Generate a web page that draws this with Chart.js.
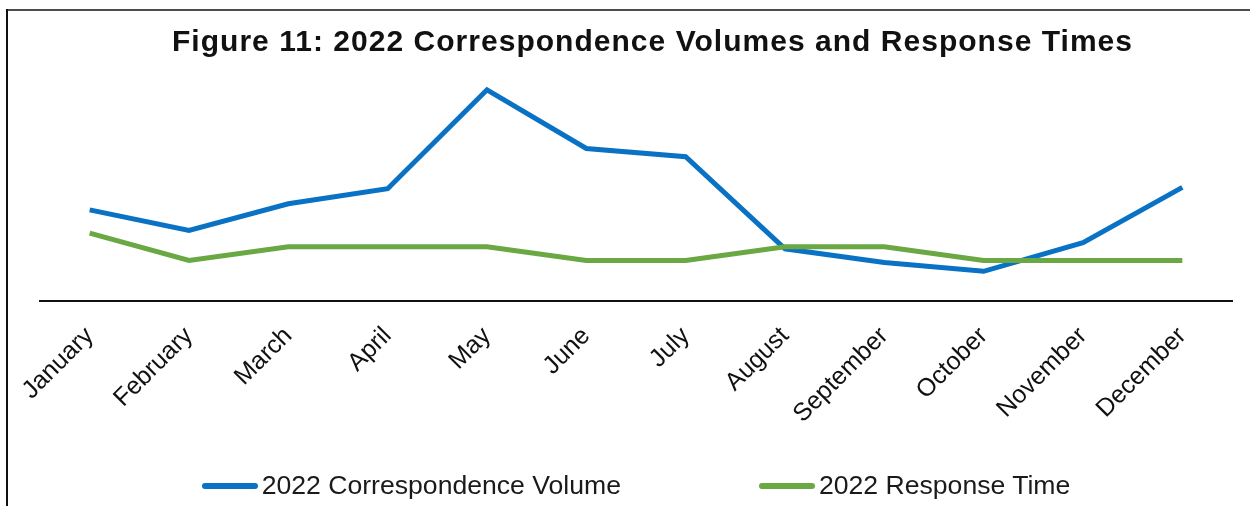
<!DOCTYPE html>
<html>
<head>
<meta charset="utf-8">
<script src="https://cdn.jsdelivr.net/npm/chart.js@4"></script>
<style>
    html, body { margin: 0; padding: 0; background: #fff; }
    #wrap { position: relative; width: 1250px; height: 506px; }
    #legend {
        position: absolute; left: 11px; top: 470px; width: 1250px;
        display: flex; justify-content: center; gap: 138px;
        font: 26.6px "Liberation Sans", Arial, sans-serif; color: #1a1a1a;
    }
    .item { display: flex; align-items: center; }
    .swatch { width: 56px; height: 6px; border-radius: 3px; margin-right: 4px; }
</style>
</head>
<body>
<div id="wrap">
    <canvas id="chart" width="1250" height="506"></canvas>
    <div id="legend"></div>
</div>
<script>
const months = ["January", "February", "March", "April", "May", "June",
    "July", "August", "September", "October", "November", "December"];
const volume2022 = [670, 520, 715, 825, 1550, 1120, 1060, 385, 285, 220, 430, 835];
const responseTime2022 = [5, 3, 4, 4, 4, 3, 3, 4, 4, 3, 3, 3];
const titleText = "Figure 11: 2022 Correspondence Volumes and Response Times";

const BLUE = "#0a72c4";
const GREEN = "#6aa843";
const FONT = '"Liberation Sans", Arial, sans-serif';

// white page with the thin frame on the top and left edges
const frame = {
    id: "frame",
    beforeDraw(chart) {
        const ctx = chart.ctx;
        ctx.save();
        ctx.fillStyle = "#fff";
        ctx.fillRect(0, 0, chart.width, chart.height);
        ctx.fillStyle = "#4d4d4d";
        ctx.fillRect(6, 9, chart.width - 6, 2);
        ctx.fillStyle = "#111";
        ctx.fillRect(6, 9, 2, chart.height - 9);
        ctx.restore();
    }
};

// heading centred a little right of the plot, stretched to ~960px
const heading = {
    id: "heading",
    afterDraw(chart) {
        const ctx = chart.ctx;
        ctx.save();
        ctx.font = "bold 30px " + FONT;
        ctx.fillStyle = "#111";
        ctx.textBaseline = "alphabetic";
        ctx.textAlign = "left";
        ctx.letterSpacing = "0px";
        const w = ctx.measureText(titleText).width;
        const target = 960;
        const spacing = Math.max(0, (target - w) / (titleText.length - 1));
        ctx.letterSpacing = spacing + "px";
        ctx.fillText(titleText, 652 - target / 2, 51);
        ctx.restore();
    }
};

const chart = new Chart(document.getElementById("chart"), {
    type: "line",
    data: {
        labels: months,
        datasets: [
            {
                label: "2022 Correspondence Volume",
                data: volume2022,
                borderColor: BLUE,
                backgroundColor: BLUE,
                borderWidth: 5,
                pointRadius: 0,
                tension: 0,
                yAxisID: "y",
                order: 2
            },
            {
                label: "2022 Response Time",
                data: responseTime2022,
                borderColor: GREEN,
                backgroundColor: GREEN,
                borderWidth: 5,
                pointRadius: 0,
                tension: 0,
                yAxisID: "y1",
                order: 1
            }
        ]
    },
    options: {
        responsive: false,
        animation: false,
        layout: { padding: { top: 83, left: 40, right: 18, bottom: 65 } },
        plugins: {
            legend: { display: false },
            title: { display: false },
            tooltip: { enabled: false }
        },
        scales: {
            x: {
                offset: true,
                grid: { display: false },
                border: { display: true, color: "#111", width: 2 },
                ticks: {
                    autoSkip: false,
                    minRotation: 45,
                    maxRotation: 45,
                    padding: 12,
                    color: "#111",
                    font: { family: FONT, size: 25 }
                }
            },
            y: { display: false, min: 0, max: 1600 },
            y1: { display: false, min: 0, max: 16 }
        }
    },
    plugins: [frame, heading]
});

// legend built from the datasets
const legend = document.getElementById("legend");
chart.data.datasets.forEach(ds => {
    const item = document.createElement("div");
    item.className = "item";
    const sw = document.createElement("span");
    sw.className = "swatch";
    sw.style.background = ds.borderColor;
    const txt = document.createElement("span");
    txt.textContent = ds.label;
    item.append(sw, txt);
    legend.append(item);
});
</script>
</body>
</html>
